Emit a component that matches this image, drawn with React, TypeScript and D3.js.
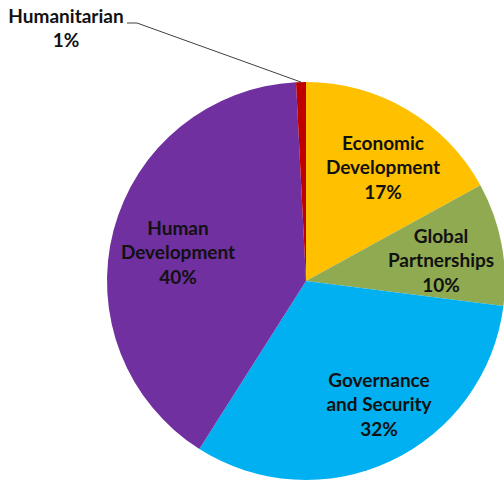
import React from "react";
import * as d3 from "d3";

const categories = ["Economic Development", "Global Partnerships", "Governance and Security", "Human Development", "Humanitarian"];
const values = [17, 10, 32, 40.2, 0.8];
const colors = ["#FFC000", "#8FAA51", "#00B0F0", "#7030A0", "#C00000"];
const labelLines = [
  ["Economic", "Development", "17%"],
  ["Global", "Partnerships", "10%"],
  ["Governance", "and Security", "32%"],
  ["Human", "Development", "40%"],
  ["Humanitarian", "1%"],
];
const labelPos = [
  [383, 145],
  [441, 238],
  [379, 382],
  [178, 230],
  [66, 18],
];

export default function App() {
  const W = 504, H = 484;
  const cx = 306, cy = 281, r = 199;
  const pie = d3.pie<number>().sort(null).value((d) => d)(values);
  const arc = d3.arc<d3.PieArcDatum<number>>().innerRadius(0).outerRadius(r);
  const hum = pie[4];
  const mid = (hum.startAngle + hum.endAngle) / 2;
  const ex = cx + Math.sin(mid) * r;
  const ey = cy - Math.cos(mid) * r;
  const leader = d3.line()([[127, 23], [137, 23], [ex, ey]]);
  return (
    <svg width={W} height={H} style={{ position: "absolute", left: 0, top: 0 }}>
      <rect width={W} height={H} fill="#fff" />
      <g transform={`translate(${cx},${cy})`}>
        {pie.map((p, i) => (
          <path key={categories[i]} d={arc(p) || ""} fill={colors[i]} />
        ))}
      </g>
      <path d={leader || ""} fill="none" stroke="#404040" strokeWidth={1} />
      {labelLines.map((lines, i) => (
        <text key={i} fontFamily="Lato, 'Open Sans', sans-serif" fontWeight="bold" fontSize={19} fill="#111" textAnchor="middle">
          {lines.map((t, j) => (
            <tspan key={j} x={labelPos[i][0]} y={labelPos[i][1] + j * 24.5} dominantBaseline="middle">
              {t}
            </tspan>
          ))}
        </text>
      ))}
    </svg>
  );
}
